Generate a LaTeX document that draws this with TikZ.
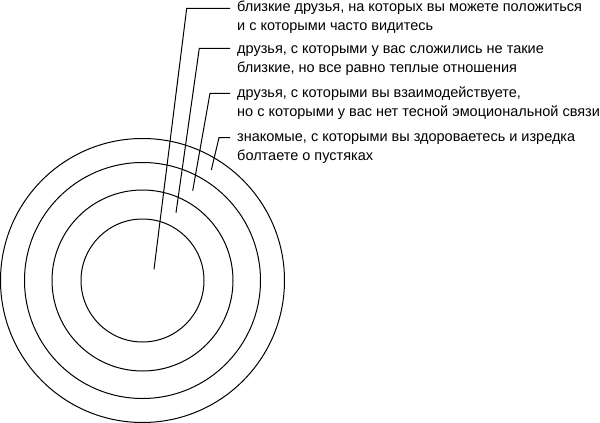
\documentclass[tikz,border=0pt]{standalone}
\usepackage{fontspec}
\setmainfont{Liberation Sans}
\begin{document}
\begin{tikzpicture}[x=1pt,y=-1pt,
  ring/.style={line width=1pt},
  leader/.style={line width=1pt},
  label/.style={anchor=base west,inner sep=0pt,align=left,
    font=\fontsize{14.5}{18.6}\selectfont}]
\useasboundingbox (0,0) rectangle (600,423);
\coordinate (c) at (142.5,280.5);
\draw[ring] (c) circle[radius=61.5];
\draw[ring] (c) circle[radius=90.5];
\draw[ring] (c) circle[radius=118];
\draw[ring] (c) circle[radius=142];
\node[label] (t1) at (237,30.5) {близкие друзья, на которых вы можете положиться\\и с которыми часто видитесь};
\node[label] (t2) at (237,72) {друзья, с которыми у вас сложились не такие\\близкие, но все равно теплые отношения};
\node[label] (t3) at (237,116) {друзья, с которыми вы взаимодействуете,\\но с которыми у вас нет тесной эмоциональной связи};
\node[label] (t4) at (237,160) {знакомые, с которыми вы здороваетесь и изредка\\болтаете о пустяках};
\coordinate (e1) at (154,269.3);
\coordinate (e2) at (176,212.7);
\coordinate (e3) at (192.7,190.7);
\coordinate (e4) at (211.3,170);
\coordinate (k1) at (186.7,8.3);
\coordinate (k2) at (199.3,48.3);
\coordinate (k3) at (210,93.3);
\coordinate (k4) at (219,137.7);
\draw[leader] (e1) -- (k1) -- ([xshift=-7pt]k1 -| t1.west);
\draw[leader] (e2) -- (k2) -- ([xshift=-7pt]k2 -| t2.west);
\draw[leader] (e3) -- (k3) -- ([xshift=-7pt]k3 -| t3.west);
\draw[leader] (e4) -- (k4) -- ([xshift=-7pt]k4 -| t4.west);
\end{tikzpicture}
\end{document}
